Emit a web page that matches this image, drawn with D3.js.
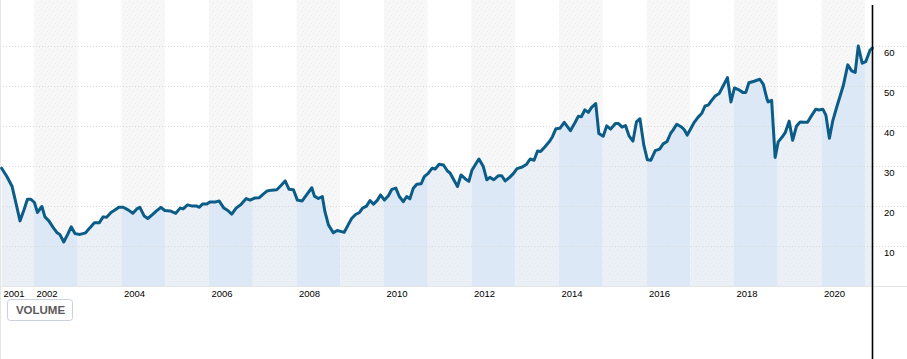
<!DOCTYPE html>
<html>
<head>
<meta charset="utf-8">
<script src="https://cdn.jsdelivr.net/npm/d3@7"></script>
<style>
  html, body { margin: 0; padding: 0; background: #fff; }
  svg { display: block; font-family: "Liberation Sans", Arial, sans-serif; }
</style>
</head>
<body>
<svg id="chart" width="907" height="359"></svg>
<script>
// ---- data (decimal years, price) ----
const times = [
  2001.26, 2001.38, 2001.50, 2001.58, 2001.68, 2001.77, 2001.85, 2001.93,
  2002.01, 2002.08, 2002.18, 2002.25, 2002.34, 2002.44, 2002.53, 2002.59, 2002.68, 2002.77, 2002.85, 2002.94,
  2003.05, 2003.18, 2003.28, 2003.38, 2003.49, 2003.58, 2003.66, 2003.76, 2003.85, 2003.94,
  2004.04, 2004.16, 2004.26, 2004.35, 2004.42, 2004.52, 2004.60, 2004.70, 2004.80, 2004.90, 2004.99,
  2005.11, 2005.24, 2005.34, 2005.41, 2005.51, 2005.62, 2005.72, 2005.78, 2005.85, 2005.95,
  2006.02, 2006.14, 2006.23, 2006.34, 2006.43, 2006.52, 2006.62, 2006.72, 2006.85, 2006.94,
  2007.04, 2007.15, 2007.24, 2007.33, 2007.43, 2007.55, 2007.64, 2007.74, 2007.83, 2007.93,
  2008.02, 2008.13, 2008.23, 2008.35, 2008.41, 2008.50, 2008.59, 2008.65, 2008.73, 2008.84, 2008.93,
  2009.03, 2009.09, 2009.18, 2009.26, 2009.35, 2009.44, 2009.51, 2009.60, 2009.68, 2009.76, 2009.85, 2009.92,
  2010.01, 2010.10, 2010.18, 2010.27, 2010.35, 2010.44, 2010.52, 2010.59, 2010.67, 2010.75, 2010.85, 2010.92,
  2011.01, 2011.10, 2011.17, 2011.26, 2011.36, 2011.45, 2011.51, 2011.60, 2011.68, 2011.76, 2011.86, 2011.94,
  2012.01, 2012.10, 2012.17, 2012.27, 2012.35, 2012.42, 2012.51, 2012.61, 2012.69, 2012.77, 2012.87, 2012.96,
  2013.04, 2013.16, 2013.26, 2013.34, 2013.43, 2013.51, 2013.58, 2013.68, 2013.79, 2013.85, 2013.93,
  2014.02, 2014.12, 2014.26, 2014.37, 2014.44, 2014.51, 2014.59, 2014.67, 2014.75, 2014.84, 2014.91,
  2015.01, 2015.09, 2015.18, 2015.29, 2015.36, 2015.44, 2015.52, 2015.60, 2015.69, 2015.77, 2015.85, 2015.94,
  2016.02, 2016.10, 2016.20, 2016.30, 2016.38, 2016.47, 2016.55, 2016.61, 2016.69, 2016.79, 2016.86, 2016.93,
  2017.01, 2017.09, 2017.18, 2017.26, 2017.34, 2017.41, 2017.49, 2017.57, 2017.66, 2017.76, 2017.85, 2017.93,
  2018.01, 2018.10, 2018.20, 2018.27, 2018.34, 2018.46, 2018.59, 2018.67, 2018.75, 2018.78, 2018.86, 2018.94,
  2019.01, 2019.10, 2019.17, 2019.26, 2019.34, 2019.43, 2019.51, 2019.61, 2019.68, 2019.78, 2019.87, 2019.94,
  2020.03, 2020.10, 2020.18, 2020.26, 2020.35, 2020.42, 2020.50, 2020.60, 2020.69, 2020.77, 2020.84, 2020.93,
  2021.01, 2021.11, 2021.16
];
const prices = [
  29.4, 27.3, 24.8, 21.0, 16.2, 18.9, 21.6, 21.6,
  20.8, 18.3, 19.8, 17.2, 16.2, 14.5, 13.2, 12.8, 10.9, 12.8, 14.7, 13.0,
  12.8, 13.2, 14.5, 15.7, 15.7, 17.2, 17.1, 18.3, 18.9, 19.6,
  19.6, 18.9, 18.1, 19.2, 19.6, 17.4, 16.8, 17.7, 18.7, 19.6, 18.8,
  18.7, 18.1, 19.4, 19.2, 20.2, 19.9, 19.9, 19.6, 20.4, 20.4,
  20.9, 20.9, 21.2, 19.4, 18.8, 17.9, 19.4, 20.2, 21.8, 21.4,
  21.9, 22.0, 22.9, 23.7, 23.9, 24.0, 25.0, 26.2, 24.1, 24.0,
  21.4, 21.2, 22.7, 24.5, 22.4, 21.8, 22.3, 18.5, 15.2, 13.2, 13.8,
  13.5, 13.3, 15.2, 16.8, 17.8, 18.3, 19.4, 19.9, 21.3, 20.4, 21.4, 22.7,
  21.4, 22.5, 24.1, 24.4, 22.3, 21.0, 22.3, 21.7, 24.4, 25.4, 25.5, 27.3,
  28.1, 29.4, 29.2, 30.4, 30.2, 28.7, 28.2, 26.4, 24.8, 27.7, 26.7, 26.1,
  28.9, 30.5, 31.7, 29.8, 26.5, 27.1, 26.5, 27.5, 27.5, 26.2, 27.1, 28.1,
  29.3, 29.7, 30.4, 31.7, 31.4, 33.7, 33.6, 34.8, 36.2, 37.3, 39.3,
  39.4, 40.9, 38.8, 40.9, 42.4, 42.3, 44.0, 43.4, 44.7, 45.6, 38.1,
  37.4, 40.0, 39.2, 40.6, 40.6, 39.7, 40.1, 37.5, 36.2, 41.0, 41.8, 35.1,
  31.5, 31.4, 33.8, 34.2, 35.5, 36.1, 38.1, 39.0, 40.4, 39.8, 39.1, 37.7,
  39.3, 40.9, 42.2, 43.1, 45.0, 45.2, 46.4, 47.5, 48.1, 50.2, 52.1, 46.0,
  49.5, 49.1, 48.4, 48.4, 50.8, 51.2, 51.7, 50.4, 46.9, 46.0, 46.4, 32.1,
  36.0, 37.2, 38.3, 41.2, 36.4, 40.0, 41.0, 40.9, 40.9, 42.7, 44.2, 44.0,
  44.2, 42.7, 36.9, 41.4, 44.8, 47.3, 50.2, 55.3, 53.8, 53.4, 60.0, 55.7,
  56.1, 59.0, 59.5
];
const yTicks = [10, 20, 30, 40, 50, 60];
const xTickYears = [2002, 2004, 2006, 2008, 2010, 2012, 2014, 2016, 2018, 2020];
const firstLabel = "2001";
const buttonLabel = "VOLUME";

// ---- layout ----
const W = 907, H = 359;
const plotL = 0, plotR = 872, plotT = 5, plotB = 286;
const startYear = 2001.223, endYear = 2021.154;

const svg = d3.select("#chart");
const x = d3.scaleLinear().domain([startYear, endYear]).range([plotL, plotR]);
const y = d3.scaleLinear().domain([0, 70.3]).range([285.5, plotT]);

const data = times.map((t, i) => ({ t, v: prices[i] }));

const defs = svg.append("defs");
function dotPattern(id, bg, dot) {
  const p = defs.append("pattern").attr("id", id).attr("patternUnits", "userSpaceOnUse")
    .attr("width", 8).attr("height", 8);
  p.append("rect").attr("width", 8).attr("height", 8).attr("fill", bg);
  [[1, 1], [5, 3], [3, 6], [7, 7]].forEach(([a, b]) =>
    p.append("rect").attr("x", a).attr("y", b).attr("width", 1).attr("height", 1).attr("fill", dot));
}
dotPattern("grayDots", "#f7f7f7", "#ededed");
dotPattern("blueDots", "#ebf0f7", "#e1e8f1");

defs.append("clipPath").attr("id", "plotClip")
  .append("rect").attr("x", plotL).attr("y", 0).attr("width", plotR - plotL).attr("height", plotB);

const area = d3.area().x(d => x(d.t)).y0(plotB).y1(d => y(d.v));
defs.append("clipPath").attr("id", "areaClip")
  .append("path").attr("d", area(data));

const years = d3.range(2001, 2022);
const bandRect = (yr) => {
  const x0 = Math.max(plotL, x(yr)), x1 = Math.min(plotR, x(yr + 1));
  return { x0, x1 };
};

// background bands above the line
const bg = svg.append("g").attr("clip-path", "url(#plotClip)");
years.forEach(yr => {
  const { x0, x1 } = bandRect(yr);
  if (x1 <= x0) return;
  bg.append("rect").attr("x", x0).attr("y", 0).attr("width", x1 - x0).attr("height", plotB)
    .attr("fill", yr % 2 === 0 ? "url(#grayDots)" : "#ffffff");
});

// area bands below the line
const ag = svg.append("g").attr("clip-path", "url(#areaClip)");
years.forEach(yr => {
  const { x0, x1 } = bandRect(yr);
  if (x1 <= x0) return;
  ag.append("rect").attr("x", x0).attr("y", 0).attr("width", x1 - x0).attr("height", plotB)
    .attr("fill", yr % 2 === 0 ? "#dce8f5" : "url(#blueDots)");
});

// gridlines
svg.append("g").selectAll("line").data(yTicks).join("line")
  .attr("x1", 0).attr("x2", W)
  .attr("y1", d => Math.round(y(d)) + 0.5).attr("y2", d => Math.round(y(d)) + 0.5)
  .attr("stroke", "#dadada").attr("stroke-dasharray", "1,2");

// bottom line and left border
svg.append("line").attr("x1", 0).attr("x2", W).attr("y1", plotB + 0.5).attr("y2", plotB + 0.5)
  .attr("stroke", "#e4e4e4");
svg.append("line").attr("x1", 0.5).attr("x2", 0.5).attr("y1", 0).attr("y2", H)
  .attr("stroke", "#e6e6e6");

// price line
svg.append("path").datum(data)
  .attr("d", d3.line().x(d => x(d.t)).y(d => y(d.v)))
  .attr("fill", "none").attr("stroke", "#0b5d88").attr("stroke-width", 3)
  .attr("stroke-linejoin", "round").attr("stroke-linecap", "round");

// x axis
const xAxis = d3.axisBottom(x)
  .tickValues([startYear].concat(xTickYears))
  .tickSize(0)
  .tickFormat((d, i) => i === 0 ? firstLabel : String(d));
const gx = svg.append("g").attr("transform", `translate(0,${plotB})`).call(xAxis);
gx.select(".domain").remove();
gx.selectAll("text")
  .attr("text-anchor", "start").attr("dx", (d, i) => i === 0 ? 3 : 2)
  .attr("y", 11).attr("dy", 0)
  .attr("font-size", 9.5).attr("font-family", "'Liberation Sans', Arial, sans-serif").attr("fill", "#000");

// y axis (right)
const yAxis = d3.axisRight(y).tickValues(yTicks).tickSize(0);
const gy = svg.append("g").attr("transform", `translate(${plotR},0)`).call(yAxis);
gy.select(".domain").remove();
gy.selectAll("text")
  .attr("text-anchor", "start").attr("x", 12).attr("dy", 9.5)
  .attr("font-size", 9.5).attr("font-family", "'Liberation Sans', Arial, sans-serif").attr("fill", "#000");

svg.append("line").attr("x1", plotR + 0.5).attr("x2", plotR + 0.5).attr("y1", plotT).attr("y2", H)
  .attr("stroke", "#000").attr("stroke-width", 1.6);

// VOLUME button
const btn = svg.append("g");
btn.append("rect").attr("x", 7.5).attr("y", 299.5).attr("width", 65).attr("height", 21).attr("rx", 3)
  .attr("fill", "#ffffff").attr("stroke", "#c9d1da");
btn.append("text").attr("x", 40.5).attr("y", 314).attr("text-anchor", "middle")
  .attr("font-size", 11.5).attr("font-weight", "bold").attr("fill", "#5a5a5a").text(buttonLabel);
</script>
</body>
</html>
